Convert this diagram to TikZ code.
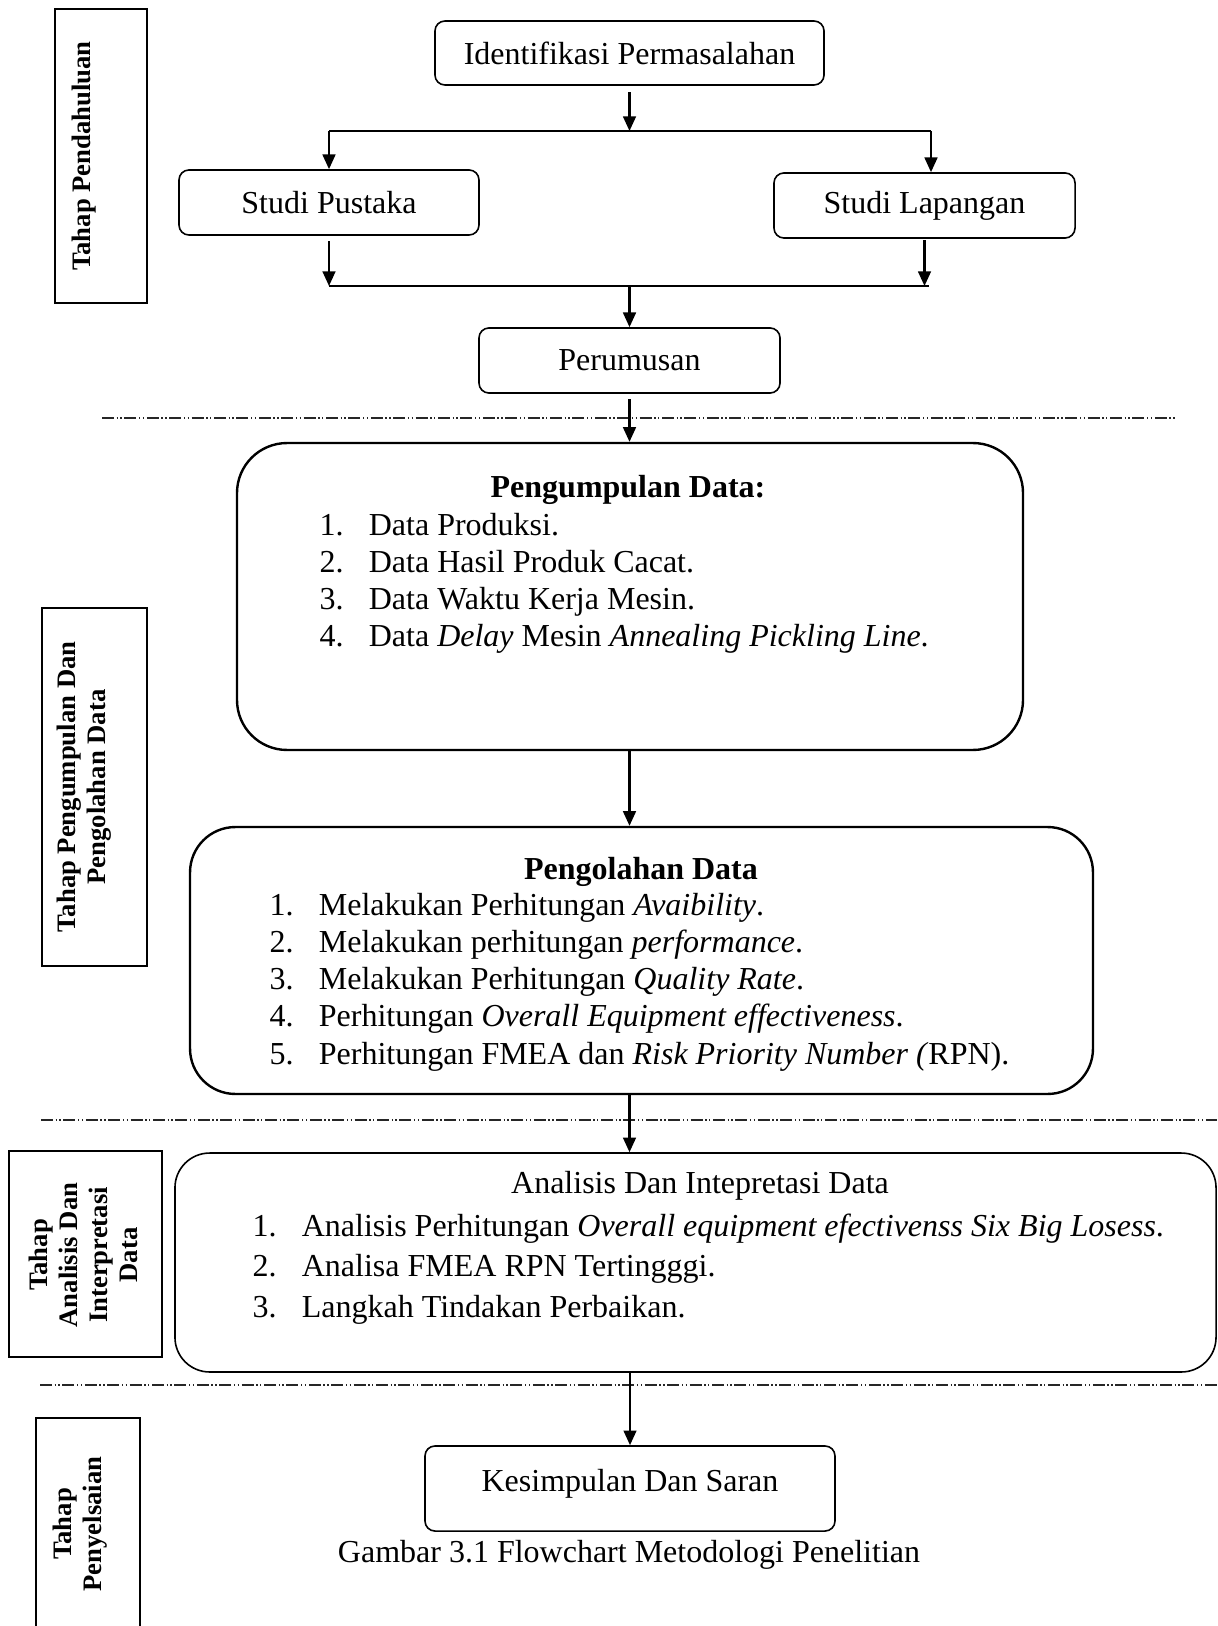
\documentclass[tikz,border=0pt]{standalone}
\usepackage{fontspec}
\setmainfont{Liberation Serif}
\usepackage{tikz}
\usetikzlibrary{arrows.meta, positioning, calc}

\begin{document}
\begin{tikzpicture}[x=0.375pt, y=-0.375pt,
    box/.style={rectangle, rounded corners=3.75pt, draw, line width=0.6pt, inner sep=0pt,
                font=\fontsize{12}{13.8}\selectfont},
    bigbox/.style={rectangle, draw, line width=0.9pt, inner sep=0pt},
    stagebox/.style={rectangle, draw, line width=0.6pt, inner sep=0pt},
    stagetext/.style={rotate=90, align=center, inner sep=0pt,
                      font=\fontsize{10}{11.25}\selectfont\bfseries},
    flow/.style={-{Triangle[length=5.5pt,width=4.8pt]}, line width=0.8pt},
    joint/.style={line width=0.6pt},
    sepline/.style={line width=0.5pt, black!85,
                    dash pattern=on 4.5pt off 1pt on 0.5pt off 0.9pt on 0.5pt off 1pt},
    heading/.style={anchor=base, inner sep=0pt, font=\fontsize{12}{13.8}\selectfont\bfseries},
    itemtext/.style={anchor=base west, inner sep=0pt, font=\fontsize{12}{13.8}\selectfont}]

    \useasboundingbox (0,0) rectangle (1217,1626);
    \clip (0,0) rectangle (1217,1626);

    % stage separators
    \draw[sepline] (102,418) -- (1175,418);
    \draw[sepline] (41,1120) -- (1217,1120);
    \draw[sepline] (40,1385) -- (1217,1385);

    % stage labels
    \node[stagebox, minimum width=34.5pt, minimum height=110.25pt] (tahap1) at (101,156) {};
    \node[stagetext] (tahap1-text) at (84,156) {Tahap Pendahuluan};
    \node[stagebox, minimum width=39.4pt, minimum height=134.25pt] (tahap2) at (94.5,787) {};
    \node[stagetext] (tahap2-text) at (84,787) {Tahap Pengumpulan Dan\\Pengolahan Data};
    \node[stagebox, minimum width=57.4pt, minimum height=77.25pt] (tahap3) at (85.5,1254) {};
    \node[stagetext] (tahap3-text) at (83,1255) {Tahap\\Analisis Dan\\Interpretasi\\Data};
    \node[stagebox, minimum width=39pt, minimum height=112.5pt] (tahap4) at (88,1568) {};
    \node[stagetext] (tahap4-text) at (80,1524) {Tahap\\Penyelsaian};

    % preliminary stage
    \node[box, minimum width=145.9pt, minimum height=24pt] (ident) at (629.5,53) {Identifikasi Permasalahan};
    \node[box, minimum width=112.5pt, minimum height=24.4pt] (pustaka) at (329,202.5) {Studi Pustaka};
    \node[box, minimum width=112.9pt, minimum height=24.4pt] (lapangan) at (924.5,205.5) {Studi Lapangan};
    \node[box, minimum width=112.9pt, minimum height=24.4pt] (perumusan) at (629.5,360.5) {Perumusan};

    \coordinate (split) at (629.5,131);
    \coordinate (splitL) at (329,131);
    \coordinate (splitR) at (931,131);
    \coordinate (joinL) at (329,286);
    \coordinate (joinR) at (929,286);
    \coordinate (join) at (629.5,286);

    \draw[flow, shorten <=2.5pt] (ident.south) -- (split);
    \draw[joint] (splitL) -- (splitR);
    \draw[flow] (splitL) -- (pustaka.north);
    \draw[flow] (splitR) -- (splitR |- lapangan.north);
    \draw[flow, shorten <=2pt] (pustaka.south) -- (joinL);
    \draw[flow, shorten <=0.5pt] (lapangan.south) -- (lapangan.south |- joinR);
    \draw[joint] (joinL) -- (joinR);
    \draw[flow] (join) -- (perumusan.north);

    % data collection and processing
    \node[bigbox, rounded corners=18.75pt, minimum width=294.75pt, minimum height=115.1pt] (kumpul) at (630,596.5) {};
    \node[heading] (kumpul-head) at (628,497) {Pengumpulan Data:};
    \foreach \t [count=\i] in {{Data Produksi.}, {Data Hasil Produk Cacat.}, {Data Waktu Kerja Mesin.},
                               {Data \textit{Delay} Mesin \textit{Annealing Pickling Line}.}}
        \node[itemtext] (kumpul-\i) at (319,{535+37*(\i-1)}) {\makebox[18.5pt][l]{\i.}\t};

    \node[bigbox, rounded corners=17pt, minimum width=338.6pt, minimum height=100.1pt] (olah) at (641.5,960.5) {};
    \node[heading] (olah-head) at (641,879) {Pengolahan Data};
    \foreach \t [count=\i] in {{Melakukan Perhitungan \textit{Avaibility}.},
                               {Melakukan perhitungan \textit{performance}.},
                               {Melakukan Perhitungan \textit{Quality Rate}.},
                               {Perhitungan \textit{Overall Equipment effectiveness}.},
                               {Perhitungan FMEA dan \textit{Risk Priority Number (}RPN).}}
        \node[itemtext] (olah-\i) at (269,{915+37.3*(\i-1)}) {\makebox[18.5pt][l]{\i.}\t};

    \draw[flow, shorten <=2pt] (perumusan.south) -- (kumpul.north -| perumusan.south);
    \draw[flow] (629.5,750) coordinate (kumpul-out) -- (kumpul-out |- olah.north);

    % analysis
    \node[stagebox, rounded corners=13pt, minimum width=390.4pt, minimum height=82.1pt] (analisis) at (695.5,1262.5) {};
    \node[anchor=base, inner sep=0pt, font=\fontsize{12}{13.8}\selectfont] (analisis-head) at (700,1193) {Analisis Dan Intepretasi Data};
    \foreach \t [count=\i] in {{Analisis Perhitungan \textit{Overall equipment efectivenss Six Big Losess}.},
                               {Analisa FMEA RPN Tertingggi.},
                               {Langkah Tindakan Perbaikan.}}
        \node[itemtext] (analisis-\i) at (252,{1236+40.5*(\i-1)}) {\makebox[18.5pt][l]{\i.}\t};

    \draw[flow] (olah.south -| kumpul-out) -- (analisis.north -| kumpul-out);

    % conclusion
    \node[box, minimum width=153.75pt, minimum height=31.9pt, text depth=6pt] (kesimpulan) at (630,1488.5) {Kesimpulan Dan Saran};
    \draw[flow] (analisis.south -| kesimpulan.north) -- (kesimpulan.north);

    \node[anchor=base, inner sep=0pt, font=\fontsize{12}{13.8}\selectfont] (caption) at (629,1562)
        {Gambar 3.1 Flowchart Metodologi Penelitian};
\end{tikzpicture}
\end{document}
